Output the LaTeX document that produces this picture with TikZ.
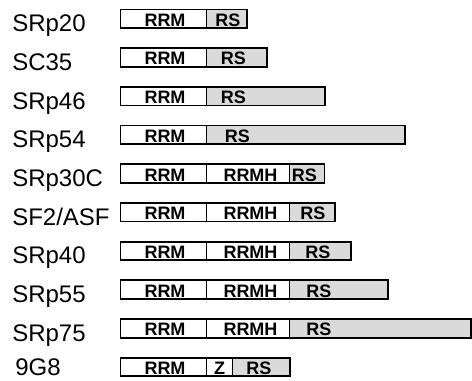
\documentclass[tikz,border=0pt]{standalone}
\usepackage{fontspec}
\setmainfont{Liberation Sans}
\definecolor{domedge}{RGB}{0,0,0}
\definecolor{domrs}{RGB}{218,218,218}
\tikzset{
  seg/.style={draw=domedge, line width=1.35pt},
  rsseg/.style={seg, fill=domrs},
  domtxt/.style={anchor=base, inner sep=0pt, font=\bfseries\fontsize{13.5pt}{15pt}\selectfont},
  protname/.style={anchor=base west, inner sep=0pt, font=\fontsize{18pt}{20pt}\selectfont}
}
\begin{document}
\begin{tikzpicture}[x=0.75pt,y=-0.75pt]
  \useasboundingbox (0,0) rectangle (472,381);

  % RRM + RS
  \node[protname] (srp20) at (12,31.8) {SRp20};
  \draw[seg] (120.5,9.5) rectangle (206.5,28.1);
  \draw[rsseg] (206.5,9.5) rectangle (247,28.1);
  \node[domtxt] (srp20rrm) at (165,26.3) {RRM};
  \node[domtxt] (srp20rs) at (228,26.3) {RS};

  \node[protname] (sc35) at (12,70.5) {SC35};
  \draw[seg] (120.5,48.2) rectangle (206.5,66.8);
  \draw[rsseg] (206.5,48.2) rectangle (267,66.8);
  \node[domtxt] (sc35rrm) at (165,65) {RRM};
  \node[domtxt] (sc35rs) at (233.5,65) {RS};

  \node[protname] (srp46) at (12,109.2) {SRp46};
  \draw[seg] (120.5,86.9) rectangle (206.5,105.5);
  \draw[rsseg] (206.5,86.9) rectangle (325,105.5);
  \node[domtxt] (srp46rrm) at (165,103.7) {RRM};
  \node[domtxt] (srp46rs) at (233.5,103.7) {RS};

  \node[protname] (srp54) at (12,147.9) {SRp54};
  \draw[seg] (120.5,125.6) rectangle (206.5,144.2);
  \draw[rsseg] (206.5,125.6) rectangle (405,144.2);
  \node[domtxt] (srp54rrm) at (165,142.4) {RRM};
  \node[domtxt] (srp54rs) at (237.5,142.4) {RS};

  % RRM + RRMH + RS
  \node[protname] (srp30c) at (12,186.6) {SRp30C};
  \draw[seg] (120.5,164.3) rectangle (206.5,182.9);
  \draw[seg] (206.5,164.3) rectangle (289.5,182.9);
  \draw[rsseg] (289.5,164.3) rectangle (324.5,182.9);
  \node[domtxt] (srp30crrm) at (165,181.1) {RRM};
  \node[domtxt] (srp30crrmh) at (250.5,181.1) {RRMH};
  \node[domtxt] (srp30crs) at (304.5,181.1) {RS};

  \node[protname] (sf2) at (12,225.3) {SF2/ASF};
  \draw[seg] (120.5,203) rectangle (206.5,221.6);
  \draw[seg] (206.5,203) rectangle (289.5,221.6);
  \draw[rsseg] (289.5,203) rectangle (335,221.6);
  \node[domtxt] (sf2rrm) at (165,219.8) {RRM};
  \node[domtxt] (sf2rrmh) at (250.5,219.8) {RRMH};
  \node[domtxt] (sf2rs) at (313,219.8) {RS};

  \node[protname] (srp40) at (12,264) {SRp40};
  \draw[seg] (120.5,241.7) rectangle (206.5,260.3);
  \draw[seg] (206.5,241.7) rectangle (289.5,260.3);
  \draw[rsseg] (289.5,241.7) rectangle (351,260.3);
  \node[domtxt] (srp40rrm) at (165,258.5) {RRM};
  \node[domtxt] (srp40rrmh) at (250.5,258.5) {RRMH};
  \node[domtxt] (srp40rs) at (318,258.5) {RS};

  \node[protname] (srp55) at (12,302.7) {SRp55};
  \draw[seg] (120.5,280.4) rectangle (206.5,299);
  \draw[seg] (206.5,280.4) rectangle (289.5,299);
  \draw[rsseg] (289.5,280.4) rectangle (388,299);
  \node[domtxt] (srp55rrm) at (165,297.2) {RRM};
  \node[domtxt] (srp55rrmh) at (250.5,297.2) {RRMH};
  \node[domtxt] (srp55rs) at (319,297.2) {RS};

  \node[protname] (srp75) at (12,341.4) {SRp75};
  \draw[seg] (120.5,319.1) rectangle (206.5,337.7);
  \draw[seg] (206.5,319.1) rectangle (289.5,337.7);
  \draw[rsseg] (289.5,319.1) rectangle (471,337.7);
  \node[domtxt] (srp75rrm) at (165,335.9) {RRM};
  \node[domtxt] (srp75rrmh) at (250.5,335.9) {RRMH};
  \node[domtxt] (srp75rs) at (319,335.9) {RS};

  % RRM + Z + RS
  \node[protname] (g98) at (15,376) {9G8};
  \draw[seg] (120.5,357.8) rectangle (206.5,376.4);
  \draw[seg] (206.5,357.8) rectangle (232.5,376.4);
  \draw[rsseg] (232.5,357.8) rectangle (290,376.4);
  \node[domtxt] (g98rrm) at (165,374.6) {RRM};
  \node[domtxt] (g98z) at (219.5,374.6) {Z};
  \node[domtxt] (g98rs) at (259,374.6) {RS};
\end{tikzpicture}
\end{document}
